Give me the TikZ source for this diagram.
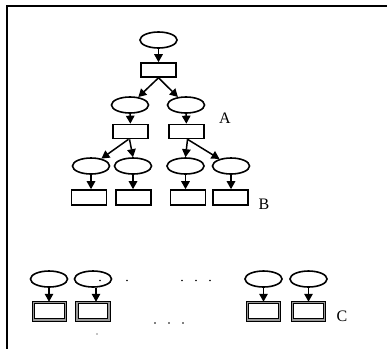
\documentclass[tikz,border=0pt]{standalone}
\usepackage{fontspec}
\setmainfont{Liberation Serif}
\usetikzlibrary{shapes.geometric,arrows.meta}
\begin{document}
\begin{tikzpicture}[x=1pt,y=-1pt,
  ov/.style={draw,ellipse,line width=1.6pt,minimum width=37pt,minimum height=16pt,inner sep=0pt},
  bx/.style={draw,rectangle,line width=1.6pt,minimum width=35pt,minimum height=14pt,inner sep=0pt},
  dbx/.style={draw,rectangle,line width=1pt,double=gray!80,double distance=1.5pt,minimum width=32pt,minimum height=17.5pt,inner sep=0pt},
  ar/.style={line width=1.5pt,-{Triangle[length=8pt,width=8.5pt]}},
  lbl/.style={font=\fontsize{16}{16}\selectfont,inner sep=0pt},
  dt/.style={circle,fill,inner sep=0pt,minimum size=1.8pt}]
\useasboundingbox (0,0) rectangle (387,349);
% frame
\coordinate (fr1) at (387,6);
\coordinate (fr2) at (7,6);
\coordinate (fr3) at (7,349);
\draw[line width=1.3pt] (fr1) -- (fr2) -- (fr3);
% tree
\node[ov] (e1) at (158.5,40) {};
\node[bx] (r1) at (158.5,70) {};
\node[ov] (e2l) at (130,105) {};
\node[ov] (e2r) at (186,105) {};
\node[bx] (r2l) at (130.5,131.5) {};
\node[bx] (r2r) at (186.5,131.5) {};
\node[ov] (e3a) at (91,166) {};
\node[ov] (e3b) at (133,166) {};
\node[ov] (e3c) at (185.5,166) {};
\node[ov] (e3d) at (231,166) {};
\node[bx,minimum height=15pt] (r3a) at (89,197.5) {};
\node[bx,minimum height=15pt] (r3b) at (133.5,197.5) {};
\node[bx,minimum height=15pt] (r3c) at (188,197.5) {};
\node[bx,minimum height=15pt] (r3d) at (230.5,197.5) {};
\draw[ar] (e1) -- (r1);
\draw[ar] (r1.south) -- (e2l);
\draw[ar] (r1.south) -- (e2r);
\draw[ar] (e2l) -- (r2l);
\draw[ar] (e2r) -- (r2r);
\draw[ar] ([xshift=-2pt]r2l.south) -- (e3a);
\draw[ar] ([xshift=-1pt]r2l.south) -- (e3b.north);
\draw[ar] ([xshift=1pt]r2r.south) -- (e3c.north);
\draw[ar] ([xshift=1pt]r2r.south) -- (e3d);
\draw[ar] (e3a.south) -- (r3a.north -| e3a.south);
\draw[ar] (e3b.south) -- (r3b.north -| e3b.south);
\draw[ar] (e3c.south) -- (r3c.north -| e3c.south);
\draw[ar] (e3d.south) -- (r3d.north -| e3d.south);
\node[lbl] (la) at (225,118) {A};
\node[lbl] (lb) at (264,204) {B};
% bottom row
\node[ov] (f1) at (49,279) {};
\node[ov] (f2) at (93,279) {};
\node[ov] (f3) at (263.5,279) {};
\node[ov] (f4) at (308.5,279) {};
\node[dbx] (g1) at (49.5,311) {};
\node[dbx] (g2) at (93,311) {};
\node[dbx] (g3) at (263.5,311) {};
\node[dbx] (g4) at (308.5,311) {};
\draw[ar] (f1.south) -- (g1.north -| f1.south);
\draw[ar] ([xshift=3pt]f2.south) -- ([xshift=3pt]g2.north);
\draw[ar] (f3.south) -- (g3.north -| f3.south);
\draw[ar] (f4.south) -- (g4.north -| f4.south);
\node[lbl] (lc) at (342,316) {C};
% dots
\node[dt] (d0) at (100,280.5) {};
\node[dt] (d1) at (127,280.5) {};
\node[dt] (d2) at (182,280.5) {};
\node[dt] (d3) at (196,280.5) {};
\node[dt] (d4) at (210,280.5) {};
\node[dt] (d5) at (155,323) {};
\node[dt] (d6) at (169,323) {};
\node[dt] (d7) at (183,323) {};
\node[dt,minimum size=1.3pt] (d8) at (97,334) {};
\end{tikzpicture}
\end{document}
